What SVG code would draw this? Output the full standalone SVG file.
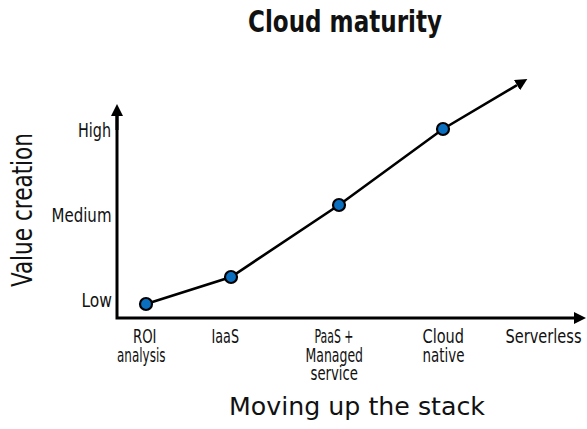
<svg xmlns="http://www.w3.org/2000/svg" width="587" height="429" viewBox="0 0 587 429">
  <style>
    text { font-family: "DejaVu Sans Condensed", "Liberation Sans", sans-serif; fill: #111; }
    .title { font-size: 30px; font-weight: bold; }
    .axis-title { font-size: 24px; }
    .v-title { font-size: 28px; }
    .tick { font-size: 19px; }
    .axis { stroke: #000; stroke-width: 3; fill: none; }
    .curve { stroke: #000; stroke-width: 2.6; fill: none; }
    .dot { fill: #0a6fbf; stroke: #000; stroke-width: 2.2; }
  </style>
  <defs>
    <marker id="head" viewBox="0 0 12 12" refX="0" refY="6" markerWidth="12" markerHeight="12" markerUnits="userSpaceOnUse" orient="auto">
      <path d="M0,0 L12,6 L0,12 z" fill="#000"/>
    </marker>
  </defs>

  <rect width="587" height="429" fill="#fff"/>

  <text class="title" x="248" y="32" textLength="194" lengthAdjust="spacingAndGlyphs">Cloud maturity</text>

  <!-- axes -->
  <g id="axes">
    <path class="axis" d="M117,116 L117,318 L574,318" marker-end="url(#head)"/>
    <path class="axis" d="M117,130 L117,116" marker-end="url(#head)"/>
  </g>

  <text class="v-title" transform="translate(32,287) rotate(-90)" textLength="154" lengthAdjust="spacingAndGlyphs">Value creation</text>
  <text class="tick" x="78" y="137" textLength="33" lengthAdjust="spacingAndGlyphs">High</text>
  <text class="tick" x="51.5" y="221.7" textLength="60" lengthAdjust="spacingAndGlyphs">Medium</text>
  <text class="tick" x="81.5" y="306.5" textLength="30.5" lengthAdjust="spacingAndGlyphs">Low</text>

  <!-- value curve -->
  <g id="connectors">
    <polyline class="curve" points="146,304 231,277 339,205 443,129 517,85.1" marker-end="url(#head)"/>
  </g>

  <!-- stages -->
  <g id="roi">
    <circle class="dot" cx="146" cy="304" r="6"/>
    <text class="tick">
      <tspan x="133" y="343" textLength="23.5" lengthAdjust="spacingAndGlyphs">ROI</tspan>
      <tspan x="117" y="361.7" textLength="48.5" lengthAdjust="spacingAndGlyphs">analysis</tspan>
    </text>
  </g>
  <g id="iaas">
    <circle class="dot" cx="231" cy="277" r="6"/>
    <text class="tick" x="211.5" y="343" textLength="27.5" lengthAdjust="spacingAndGlyphs">IaaS</text>
  </g>
  <g id="paas">
    <circle class="dot" cx="339" cy="205" r="6"/>
    <text class="tick">
      <tspan x="314.5" y="343" textLength="39" lengthAdjust="spacingAndGlyphs">PaaS +</tspan>
      <tspan x="305.5" y="361.7" textLength="57.5" lengthAdjust="spacingAndGlyphs">Managed</tspan>
      <tspan x="310.5" y="380" textLength="47.5" lengthAdjust="spacingAndGlyphs">service</tspan>
    </text>
  </g>
  <g id="cloud-native">
    <circle class="dot" cx="443" cy="129" r="6"/>
    <text class="tick">
      <tspan x="422.5" y="343" textLength="41.5" lengthAdjust="spacingAndGlyphs">Cloud</tspan>
      <tspan x="422.5" y="361.7" textLength="42" lengthAdjust="spacingAndGlyphs">native</tspan>
    </text>
  </g>
  <g id="serverless">
    <text class="tick" x="581.5" y="343" text-anchor="end" textLength="76" lengthAdjust="spacingAndGlyphs">Serverless</text>
  </g>

  <text class="axis-title" x="229" y="415" textLength="256" lengthAdjust="spacingAndGlyphs">Moving up the stack</text>
</svg>
